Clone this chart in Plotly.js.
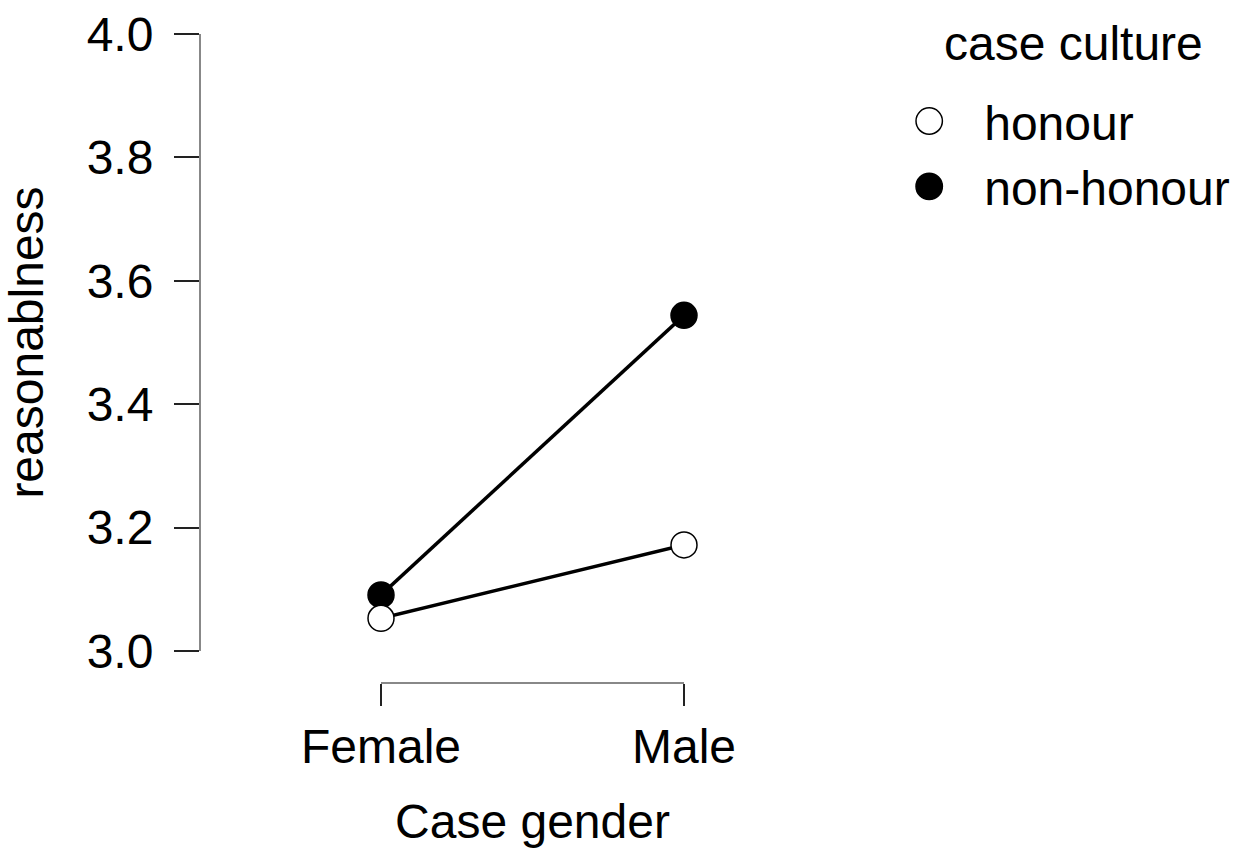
<!DOCTYPE html>
<html>
<head>
<meta charset="utf-8">
<script src="https://cdn.plot.ly/plotly-3.0.1.min.js"></script>
<style>html,body{margin:0;padding:0;background:#fff;}#chart{width:1233px;height:859px;}</style>
</head>
<body>
<div id="chart"></div>
<script>
// ---- data ----
const categories = ['Female', 'Male'];
const honour = [3.053, 3.172];
const nonHonour = [3.091, 3.544];
const seriesNames = ['honour', 'non-honour'];
const legendTitle = 'case culture';
const yTickVals = [3.0, 3.2, 3.4, 3.6, 3.8, 4.0];

const FONT = 'Liberation Sans, Arial, sans-serif';

const dataTraces = [
  {
    x: categories, y: nonHonour, type: 'scatter', mode: 'lines+markers',
    name: seriesNames[1], showlegend: false, cliponaxis: false, hoverinfo: 'skip',
    line: {color: '#000', width: 3.5},
    marker: {size: 26, color: '#000', line: {color: '#000', width: 1.5}}
  },
  {
    x: categories, y: honour, type: 'scatter', mode: 'lines+markers',
    name: seriesNames[0], showlegend: false, cliponaxis: false, hoverinfo: 'skip',
    line: {color: '#000', width: 3.5},
    marker: {size: 26, color: '#fff', line: {color: '#000', width: 1.5}}
  },
  // legend entries
  {
    x: [null], y: [null], type: 'scatter', mode: 'markers', name: seriesNames[0],
    marker: {size: 16, color: '#fff', line: {color: '#000', width: 1}}
  },
  {
    x: [null], y: [null], type: 'scatter', mode: 'markers', name: seriesNames[1],
    marker: {size: 16, color: '#000', line: {color: '#000', width: 1}}
  }
];

const layout = {
  width: 1233, height: 859,
  paper_bgcolor: '#fff', plot_bgcolor: '#fff',
  margin: {l: 199, r: 534, t: 34, b: 177, pad: 0, autoexpand: false},
  font: {family: FONT, size: 48, color: '#000'},
  showlegend: true,
  xaxis: {
    type: 'category', range: [0, 1], domain: [0.364, 0.97],
    anchor: 'free', position: 0,
    showline: true, linecolor: '#888', linewidth: 1.5,
    ticks: 'outside', ticklen: 22, tickwidth: 2, tickcolor: '#222',
    showgrid: false, zeroline: false, automargin: false,
    tickfont: {family: FONT, size: 48, color: '#000'},
    title: {text: 'Case gender', font: {family: FONT, size: 48, color: '#000'}, standoff: 32}
  },
  yaxis: {
    range: [3, 4], domain: [0.0478, 1],
    anchor: 'free', position: 0,
    tickvals: yTickVals, tickformat: '.1f',
    showline: true, linecolor: '#888', linewidth: 1.5,
    ticks: 'outside', ticklen: 25, tickwidth: 2, tickcolor: '#222',
    ticklabelstandoff: 11,
    showgrid: false, zeroline: false, automargin: false,
    tickfont: {family: FONT, size: 48, color: '#000'},
    title: {text: 'reasonablness', font: {family: FONT, size: 48, color: '#000'}, standoff: 31}
  },
  legend: {
    xref: 'container', yref: 'container',
    x: 0.709, xanchor: 'left', y: 0.903, yanchor: 'top',
    bgcolor: 'rgba(0,0,0,0)', borderwidth: 0,
    font: {family: FONT, size: 48, color: '#000'},
    itemwidth: 100, traceorder: 'normal'
  },
  annotations: [
    {
      text: legendTitle, xref: 'paper', yref: 'paper',
      x: 1.486, xanchor: 'left', y: 0.9846, yanchor: 'middle',
      showarrow: false, font: {family: FONT, size: 48, color: '#000'}
    }
  ]
};

Plotly.newPlot('chart', dataTraces, layout, {staticPlot: true, displayModeBar: false}).then(function(gd) {
  // enlarge legend symbols to match the plotted marker size
  document.querySelectorAll('.legend .legendpoints path.scatterpts').forEach(function(p) {
    const t = p.getAttribute('transform') || '';
    p.setAttribute('transform', t + ' scale(1.65)');
    p.style.strokeWidth = '0.9px';
  });
});
</script>
</body>
</html>
